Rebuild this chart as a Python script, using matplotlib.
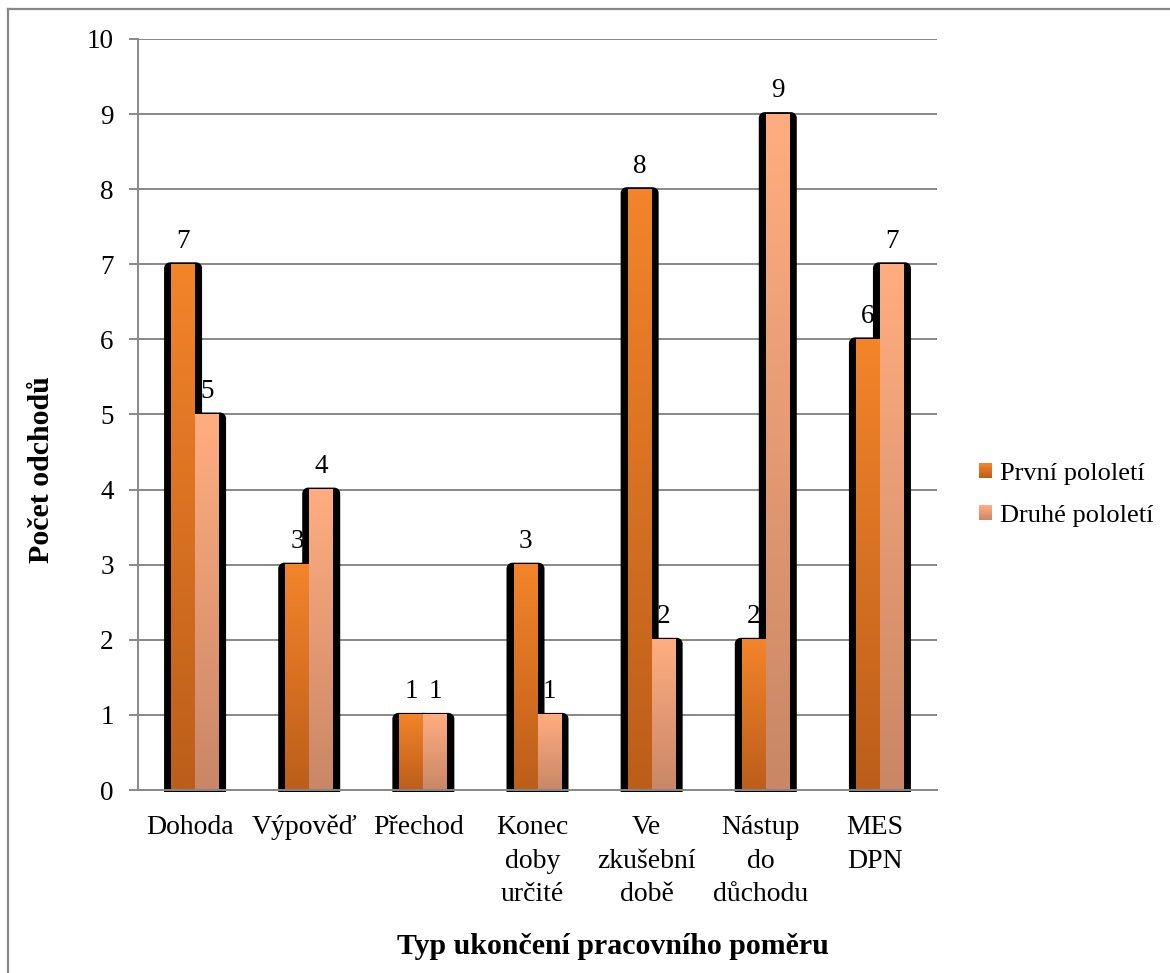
import numpy as np
import matplotlib
matplotlib.use("Agg")
import matplotlib.pyplot as plt
from matplotlib.patches import Rectangle, PathPatch
from matplotlib.path import Path
from matplotlib.lines import Line2D
from matplotlib.legend_handler import HandlerBase
from matplotlib.colors import to_rgb

# ---- data ----
categories = ["Dohoda", "Výpověď", "Přechod", "Konec\ndoby\nurčité",
              "Ve\nzkušební\ndobě", "Nástup\ndo\ndůchodu", "MES\nDPN"]
first_half = [7, 3, 1, 3, 8, 2, 6]
second_half = [5, 4, 1, 1, 2, 9, 7]
series_names = ["První pololetí", "Druhé pololetí"]
y_ticks = list(range(0, 11))

# ---- style ----
plt.rcParams['font.family'] = ['Liberation Serif', 'DejaVu Serif']
GRID = "#888888"
grad_top = [to_rgb("#F3842A"), to_rgb("#FFAD80")]
grad_bot = [to_rgb("#BC5E1A"), to_rgb("#C98766")]

W, H, DPI = 1170, 973, 100
fig = plt.figure(figsize=(W / DPI, H / DPI), dpi=DPI)
ax_l, ax_r, ax_t, ax_b = 138, 937, 39, 790
ax = fig.add_axes([ax_l / W, (H - ax_b) / H, (ax_r - ax_l) / W, (ax_b - ax_t) / H])

n = len(categories)
px_x = (ax_r - ax_l) / n      # pixels per x unit
px_y = (ax_b - ax_t) / 10.0   # pixels per y unit
bar_w = 24 / px_x


def gradient(top, bot, steps=64):
    t = np.linspace(0, 1, steps)[:, None]
    arr = (1 - t) * np.array(top)[None, :] + t * np.array(bot)[None, :]
    return arr[:, None, :]


def rounded_top_path(x0, x1, y0, y1, rx, ry, k=10):
    verts = [(x0, y0), (x1, y0)]
    for t in np.linspace(0, np.pi / 2, k):
        verts.append((x1 - rx + rx * np.cos(t), y1 - ry + ry * np.sin(t)))
    for t in np.linspace(np.pi / 2, np.pi, k):
        verts.append((x0 + rx + rx * np.cos(t), y1 - ry + ry * np.sin(t)))
    verts.append((x0, y0))
    codes = [Path.MOVETO] + [Path.LINETO] * (len(verts) - 2) + [Path.CLOSEPOLY]
    return Path(verts, codes)


series = [first_half, second_half]
pad_x = 7 / px_x
pad_top = 2 / px_y
pad_bot = 2 / px_y
rx, ry = 6 / px_x, 6 / px_y

for s, values in enumerate(series):
    for i, v in enumerate(values):
        xc = i + 0.5
        x0 = xc - bar_w + s * bar_w
        x1 = x0 + bar_w
        # dark drop shadow behind each bar
        shadow = PathPatch(rounded_top_path(x0 - pad_x, x1 + pad_x, -pad_bot, v + pad_top, rx, ry),
                           facecolor="black", edgecolor="none", zorder=2, clip_on=False)
        ax.add_patch(shadow)
        # gradient-filled bar
        ax.imshow(gradient(grad_top[s], grad_bot[s]), extent=[x0, x1, 0, v],
                  aspect='auto', origin='upper', interpolation='bilinear', zorder=2.2)
        # value label
        ax.annotate(str(v), (x0 + bar_w / 2, v), xytext=(0, 12), textcoords='offset points',
                    ha='center', va='baseline', fontsize=19.5, zorder=1.5)

ax.set_xlim(0, n)
ax.set_ylim(0, 10)
# category labels sit slightly left of the bar pairs
ax.set_xticks([i + 0.5 - 5 / px_x for i in range(n)])
ax.set_xticklabels(categories, fontsize=20, linespacing=1.45)
ax.set_yticks(y_ticks)
ax.set_yticklabels([str(t) for t in y_ticks], fontsize=19.5)
ax.tick_params(axis='x', length=0, pad=18)
ax.tick_params(axis='y', length=6.5, width=1.4, color=GRID, pad=11)

ax.set_axisbelow(True)
ax.yaxis.grid(True, color=GRID, linewidth=1.4)
ax.xaxis.grid(False)
for side in ["top", "right"]:
    ax.spines[side].set_visible(False)
for side in ["left", "bottom"]:
    ax.spines[side].set_color(GRID)
    ax.spines[side].set_linewidth(1.4)
    ax.spines[side].set_zorder(2.5)

fig.text(42 / W, 1 - 470 / H, "Počet odchodů", rotation=90, ha='center', va='center',
         fontsize=21.5, fontweight='bold')
fig.text(613 / W, 1 - 946 / H, "Typ ukončení pracovního poměru", ha='center', va='center',
         fontsize=21.5, fontweight='bold')


class GradientSquare(HandlerBase):
    def __init__(self, top, bot, steps=12):
        super().__init__()
        self.top, self.bot, self.steps = top, bot, steps

    def create_artists(self, legend, orig_handle, xdescent, ydescent, width, height,
                       fontsize, trans):
        arts = []
        h = height / self.steps
        for k in range(self.steps):
            t = k / (self.steps - 1)
            c = tuple((1 - t) * a + t * b for a, b in zip(self.top, self.bot))
            y = -ydescent + height - (k + 1) * h
            arts.append(Rectangle((-xdescent, y), width, h * 1.02, facecolor=c,
                                  edgecolor='none', transform=trans))
        return arts


h1 = Rectangle((0, 0), 1, 1)
h2 = Rectangle((0, 0), 1, 1)
leg = ax.legend([h1, h2], series_names,
                handler_map={h1: GradientSquare(grad_top[0], grad_bot[0]),
                             h2: GradientSquare(grad_top[1], grad_bot[1])},
                loc='center left', bbox_to_anchor=(979 / W, 1 - 495 / H),
                bbox_transform=fig.transFigure, frameon=False, fontsize=19,
                handlelength=0.5, handleheight=0.5, handletextpad=0.3,
                labelspacing=0.75, borderpad=0, borderaxespad=0)

# outer chart frame (left and top edges)
fig.add_artist(Line2D([8 / W, 8 / W], [0, 1 - 9 / H], color=GRID, linewidth=1.6,
                      transform=fig.transFigure))
fig.add_artist(Line2D([8 / W, 1], [1 - 9 / H, 1 - 9 / H], color=GRID, linewidth=1.6,
                      transform=fig.transFigure))

fig.savefig("out.png", dpi=DPI, facecolor="white")
